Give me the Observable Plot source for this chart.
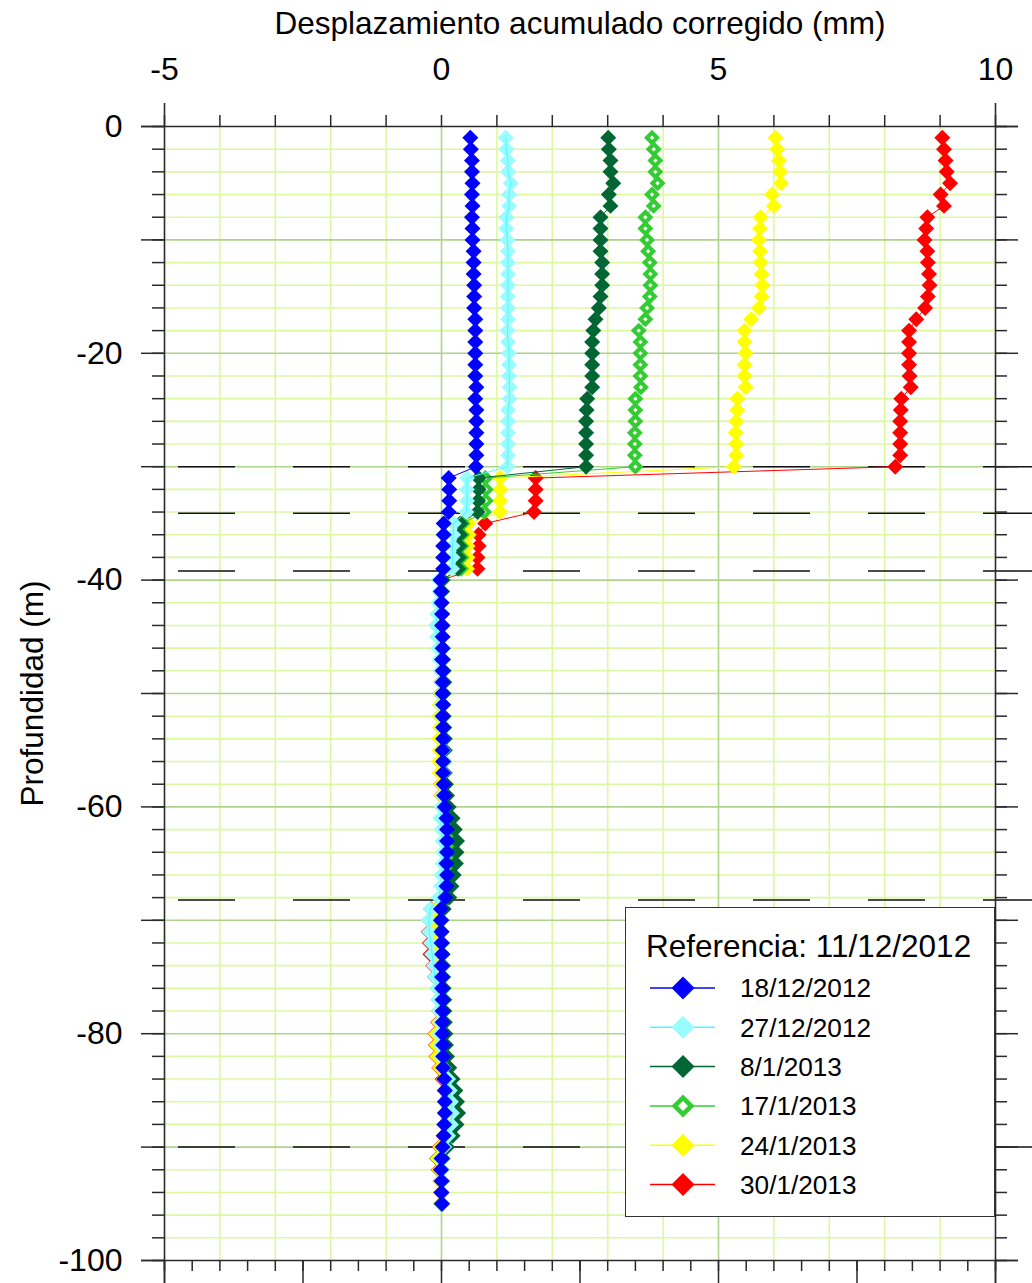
<!DOCTYPE html>
<html>
<head>
<meta charset="utf-8">
<script src="https://cdn.jsdelivr.net/npm/d3@7"></script>
<script src="https://cdn.jsdelivr.net/npm/@observablehq/plot@0.6"></script>
<style>
  html, body { margin: 0; padding: 0; background: #fff; }
  #wrap { position: relative; width: 1032px; height: 1283px; font-family: "Liberation Sans", Arial, sans-serif; }
  #legend { position: absolute; left: 625px; top: 907px; width: 368px; height: 308px; border: 1.5px solid #333; background: #fff; }
</style>
</head>
<body>
<div id="wrap"><div id="legend"></div></div>
<script>
// ---- Data ----
const depth = [-1,-2,-3,-4,-5,-6,-7,-8,-9,-10,-11,-12,-13,-14,-15,-16,-17,-18,-19,-20,
  -21,-22,-23,-24,-25,-26,-27,-28,-29,-30,-31,-32,-33,-34,-35,-36,-37,-38,-39,-40,
  -41,-42,-43,-44,-45,-46,-47,-48,-49,-50,-51,-52,-53,-54,-55,-56,-57,-58,-59,-60,
  -61,-62,-63,-64,-65,-66,-67,-68,-69,-70,-71,-72,-73,-74,-75,-76,-77,-78,-79,-80,
  -81,-82,-83,-84,-85,-86,-87,-88,-89,-90,-91,-92,-93,-94,-95];

const seriesNames = ["18/12/2012", "27/12/2012", "8/1/2013", "17/1/2013", "24/1/2013", "30/1/2013"];
const seriesColors = ["#0000ff", "#99fcff", "#006633", "#33cc33", "#ffff00", "#ff0000"];
const seriesLineColors = ["#0000ff", "#55f5ff", "#006633", "#33cc33", "#ffff00", "#ff0000"];
const hollowSeries = ["17/1/2013"];

const s18dic = [
  0.52,0.53,0.55,0.55,0.56,0.55,0.56,0.55,0.56,0.56,
  0.58,0.58,0.58,0.59,0.59,0.59,0.61,0.61,0.61,0.61,
  0.61,0.61,0.63,0.61,0.63,0.63,0.63,0.63,0.63,0.62,
  0.13,0.14,0.14,0.13,0.04,0.04,0.03,0.03,0.03,-0.02,
  -0.01,0.00,0.01,0.01,0.02,0.02,0.01,0.02,0.02,0.02,
  0.03,0.02,0.03,0.03,0.02,0.03,0.03,0.04,0.05,0.06,
  0.09,0.10,0.10,0.10,0.09,0.10,0.09,0.07,-0.01,-0.01,
  0.00,0.00,0.01,0.00,0.01,0.01,0.02,0.02,0.02,0.02,
  0.03,0.03,0.03,0.05,0.06,0.06,0.06,0.05,0.04,0.02,
  0.00,-0.01,0.00,0.00,0.01];
const s27dic = [
  1.16,1.17,1.20,1.20,1.25,1.22,1.22,1.17,1.17,1.19,
  1.20,1.20,1.20,1.20,1.20,1.20,1.20,1.19,1.20,1.22,
  1.22,1.22,1.23,1.23,1.20,1.20,1.20,1.20,1.20,1.19,
  0.46,0.46,0.46,0.45,0.22,0.21,0.20,0.20,0.19,-0.05,
  -0.04,-0.06,-0.08,-0.10,-0.08,-0.06,-0.04,-0.02,-0.01,0.00,
  -0.01,0.00,0.01,0.02,0.03,0.05,0.04,0.03,0.02,0.00,
  -0.02,0.00,0.02,0.03,0.02,0.00,-0.01,-0.05,-0.20,-0.23,
  -0.22,-0.19,-0.17,-0.14,-0.12,-0.08,-0.06,-0.04,-0.02,-0.04,
  -0.02,0.00,0.04,0.12,0.15,0.17,0.19,0.17,0.12,0.05,
  -0.02,0.00,0.00,0.01,0.01];
const s8ene = [
  3.01,3.02,3.05,3.05,3.10,3.02,3.05,2.87,2.87,2.87,
  2.87,2.90,2.90,2.90,2.87,2.84,2.78,2.74,2.72,2.72,
  2.72,2.72,2.72,2.63,2.62,2.61,2.61,2.61,2.61,2.61,
  0.67,0.67,0.66,0.65,0.34,0.33,0.32,0.31,0.30,0.02,
  0.01,0.00,0.01,0.02,0.01,0.02,0.03,0.04,0.05,0.04,
  0.03,0.04,0.05,0.06,0.06,0.05,0.06,0.08,0.10,0.13,
  0.20,0.24,0.28,0.27,0.26,0.22,0.18,0.14,0.04,0.00,
  0.00,0.01,0.02,0.03,0.03,0.04,0.05,0.05,0.06,0.07,
  0.08,0.10,0.14,0.20,0.25,0.28,0.30,0.27,0.20,0.10,
  0.02,0.00,0.01,0.00,0.00];
const s17ene = [
  3.80,3.83,3.86,3.86,3.90,3.80,3.83,3.68,3.68,3.71,
  3.73,3.76,3.77,3.77,3.76,3.71,3.68,3.56,3.59,3.59,
  3.59,3.59,3.60,3.50,3.50,3.50,3.49,3.49,3.49,3.50,
  0.79,0.80,0.80,0.77,0.38,0.37,0.36,0.36,0.35,0.01,
  0.00,-0.01,0.00,0.01,0.01,0.02,0.02,0.03,0.03,0.02,
  0.02,0.03,0.03,0.04,0.04,0.04,0.05,0.06,0.08,0.10,
  0.15,0.18,0.20,0.20,0.18,0.16,0.14,0.10,0.02,-0.02,
  -0.02,0.00,0.01,0.01,0.02,0.03,0.03,0.04,0.04,0.05,
  0.06,0.07,0.10,0.15,0.19,0.22,0.24,0.22,0.16,0.08,
  0.01,0.00,0.00,0.00,0.00];
const s24ene = [
  6.03,6.06,6.09,6.11,6.13,5.97,6.00,5.76,5.75,5.73,
  5.75,5.76,5.78,5.79,5.78,5.73,5.59,5.47,5.47,5.49,
  5.47,5.47,5.49,5.34,5.34,5.32,5.31,5.32,5.32,5.28,
  1.06,1.06,1.06,1.06,0.49,0.49,0.47,0.47,0.46,-0.02,
  -0.02,-0.03,-0.03,-0.02,-0.01,0.00,-0.01,0.00,-0.01,-0.02,
  -0.03,-0.04,-0.03,-0.04,-0.03,-0.04,-0.03,-0.01,0.00,0.02,
  0.05,0.06,0.07,0.06,0.05,0.04,0.03,0.00,-0.12,-0.15,
  -0.14,-0.12,-0.10,-0.08,-0.06,-0.04,-0.03,-0.03,-0.05,-0.10,
  -0.09,-0.08,-0.03,0.04,0.08,0.10,0.12,0.10,0.06,-0.02,
  -0.07,-0.04,-0.02,-0.01,0.00];
const s30ene = [
  9.04,9.07,9.10,9.12,9.18,9.01,9.07,8.77,8.75,8.72,
  8.77,8.78,8.80,8.81,8.78,8.73,8.57,8.44,8.44,8.44,
  8.44,8.45,8.47,8.30,8.29,8.28,8.28,8.28,8.28,8.19,
  1.70,1.70,1.70,1.67,0.79,0.67,0.67,0.65,0.65,-0.02,
  -0.02,-0.02,-0.03,-0.03,-0.03,-0.02,-0.02,-0.01,-0.01,-0.02,
  -0.02,-0.03,-0.02,-0.03,-0.02,-0.02,-0.02,-0.01,0.00,0.01,
  0.04,0.05,0.06,0.06,0.05,0.03,0.02,-0.03,-0.19,-0.22,
  -0.23,-0.21,-0.20,-0.15,-0.12,-0.07,-0.05,-0.04,-0.06,-0.11,
  -0.10,-0.09,-0.04,0.02,0.06,0.08,0.10,0.08,0.04,-0.03,
  -0.08,-0.05,-0.02,-0.01,0.00];

const seriesValues = [s18dic, s27dic, s8ene, s17ene, s24ene, s30ene];

// layer boundaries (dashed lines)
const layerDepths = [-30, -34.1, -39.2, -68.2, -90];

// axis tick labels
const xTickLabels = [-5, 0, 5, 10];
const yTickLabels = [0, -20, -40, -60, -80, -100];
const xTitle = "Desplazamiento acumulado corregido (mm)";
const yTitle = "Profundidad (m)";
const legendTitle = "Referencia: 11/12/2012";

// ---- Build table ----
const rows = [];
seriesNames.forEach((name, i) => {
  seriesValues[i].forEach((v, j) => rows.push({serie: name, idx: i, d: depth[j], v}));
});

const xMinorGrid = d3.range(-4, 10, 1).filter(v => v % 5 !== 0);
const xMajorGrid = [0, 5];
const yMinorGrid = d3.range(-98, 0, 2).filter(v => v % 10 !== 0);
const yMajorGrid = d3.range(-90, 0, 10);
const topTicks = d3.range(-5, 11, 1);
const bottomMinor = d3.range(-5, 10.01, 0.5);
const bottomMajor = d3.range(-5, 10.01, 2.5);
const sideMinor = d3.range(-100, 0.01, 2);
const sideMajor = d3.range(-100, 0.01, 10);

const minorGridColor = "#dcf9a0";
const majorGridColor = "#aed38c";
const axisColor = "#2a2a2a";
const fontFamily = "'Liberation Sans', Arial, sans-serif";

const seriesMarks = [];
for (let i = seriesNames.length - 1; i >= 0; i--) {
  const data = rows.filter(r => r.idx === i);
  seriesMarks.push(
    Plot.dot(data, {x: "v", y: "d", symbol: "diamond2", r: 7.2, fill: seriesColors[i], stroke: "none"}),
    Plot.line(data, {x: "v", y: "d", stroke: seriesLineColors[i], strokeWidth: 1})
  );
  if (hollowSeries.includes(seriesNames[i])) {
    seriesMarks.push(Plot.dot(data, {x: "v", y: "d", symbol: "diamond2", r: 2, fill: "#ffffff", stroke: "none"}));
  }
}

const chart = Plot.plot({
  width: 1032,
  height: 1283,
  marginLeft: 164,
  marginRight: 37,
  marginTop: 126,
  marginBottom: 23,
  style: {fontFamily, fontSize: "31.5px", background: "transparent", overflow: "visible"},
  x: {domain: [-5, 10], axis: null},
  y: {domain: [-100, 0], axis: null},
  marks: [
    Plot.ruleX(xMinorGrid, {stroke: minorGridColor, strokeWidth: 1.6}),
    Plot.ruleY(yMinorGrid, {stroke: minorGridColor, strokeWidth: 1.6}),
    Plot.ruleX(xMajorGrid, {stroke: majorGridColor, strokeWidth: 1.6}),
    Plot.ruleY(yMajorGrid, {stroke: majorGridColor, strokeWidth: 1.6}),
    Plot.ruleY(layerDepths, {x1: -5, x2: 10, insetLeft: 14, insetRight: -37, stroke: "#111", strokeWidth: 1.5, strokeDasharray: "57,58"}),
    ...seriesMarks,
    // frame
    Plot.ruleX([-5, 10], {y1: 0, y2: -100, insetTop: -23, insetBottom: -23, stroke: axisColor, strokeWidth: 1.6}),
    Plot.ruleY([0, -100], {x1: -5, x2: 10, insetLeft: -23, insetRight: -23, stroke: axisColor, strokeWidth: 1.6}),
    // ticks
    Plot.ruleX(topTicks, {y1: 0, y2: 0, insetTop: -11, stroke: axisColor, strokeWidth: 1.5}),
    Plot.ruleX(bottomMinor, {y1: -100, y2: -100, insetBottom: -11, stroke: axisColor, strokeWidth: 1.5}),
    Plot.ruleX(bottomMajor, {y1: -100, y2: -100, insetBottom: -23, stroke: axisColor, strokeWidth: 1.5}),
    Plot.ruleY(sideMinor, {x1: -5, x2: -5, insetLeft: -12, stroke: axisColor, strokeWidth: 1.5}),
    Plot.ruleY(sideMajor, {x1: -5, x2: -5, insetLeft: -23, stroke: axisColor, strokeWidth: 1.5}),
    Plot.ruleY(sideMinor, {x1: 10, x2: 10, insetRight: -12, stroke: axisColor, strokeWidth: 1.5}),
    Plot.ruleY(sideMajor, {x1: 10, x2: 10, insetRight: -23, stroke: axisColor, strokeWidth: 1.5}),
    // tick labels
    Plot.text(xTickLabels, {x: d => d, frameAnchor: "top", dy: -47, lineAnchor: "bottom", text: d => String(d), fontSize: 32, fill: "#000"}),
    Plot.text(yTickLabels, {y: d => d, frameAnchor: "left", dx: -42, textAnchor: "end", lineAnchor: "middle", text: d => String(d), fontSize: 32, fill: "#000"}),
    // axis titles
    Plot.text([xTitle], {frameAnchor: "top", dy: -103, lineAnchor: "middle", textAnchor: "middle", text: d => d, fontSize: 31.5, fill: "#000"}),
    Plot.text([yTitle], {frameAnchor: "left", dx: -132, rotate: -90, lineAnchor: "middle", textAnchor: "middle", text: d => d, fontSize: 31.5, fill: "#000"})
  ]
});
chart.style.position = "absolute";
chart.style.left = "0px";
chart.style.top = "0px";
const wrap = document.getElementById("wrap");
wrap.insertBefore(chart, wrap.firstChild);

// ---- Legend ----
const legend = d3.select("#legend").append("svg")
  .attr("width", 368).attr("height", 308)
  .style("font-family", fontFamily);
legend.append("text").attr("x", 20).attr("y", 38).attr("dy", "0.35em")
  .attr("font-size", 31.5).attr("fill", "#000").text(legendTitle);
seriesNames.forEach((name, i) => {
  const y = 80 + i * 39.3;
  const g = legend.append("g").attr("transform", `translate(0,${y})`);
  g.append("line").attr("x1", 24).attr("x2", 89).attr("stroke", seriesLineColors[i]).attr("stroke-width", 1.5);
  g.append("path").attr("transform", "translate(57,0)").attr("d", "M0,-11.5L11.5,0L0,11.5L-11.5,0Z").attr("fill", seriesColors[i]);
  if (hollowSeries.includes(name)) {
    g.append("path").attr("transform", "translate(57,0)").attr("d", "M0,-5L5,0L0,5L-5,0Z").attr("fill", "#fff");
  }
  g.append("text").attr("x", 114).attr("dy", "0.36em").attr("font-size", 26.2).attr("fill", "#000").text(name);
});
</script>
</body>
</html>
